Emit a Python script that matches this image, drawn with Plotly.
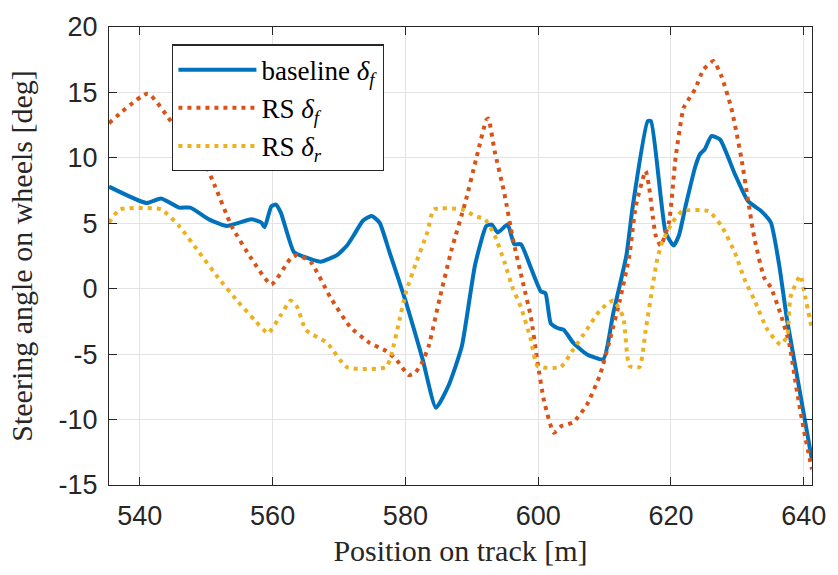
import plotly.graph_objects as go

# ---- data ----
baseline_x = [535.35, 541.0, 543.2, 545.9, 547.6, 550.4, 553.1, 556.8, 558.3, 558.8, 559.8, 560.5,
              561.25, 563.2, 564.7, 567.2, 569.7, 571.2, 572.2, 573.6, 574.9, 576.1, 577.6, 580.07,
              582.6, 584.6, 586.5, 588.5, 590.5, 592.2, 593.0, 593.9, 595.4, 596.4, 597.4, 598.9,
              600.4, 601.1, 601.9, 602.9, 603.85, 605.3, 607.3, 609.8, 611.3, 613.3, 614.25, 616.5,
              617.0, 619.2, 620.4, 621.2, 622.2, 623.65, 624.4, 625.1, 626.1, 627.4, 629.6, 631.6,
              633.6, 635.05, 636.3, 637.5, 641.25]
baseline_y = [7.8, 6.55, 6.9, 6.2, 6.2, 5.3, 4.8, 5.3, 5.06, 4.7, 6.3, 6.43,
              5.8, 2.8, 2.45, 2.07, 2.57, 3.3, 4.07, 5.2, 5.56, 5.06, 2.8, -1.0,
              -5.4, -9.1, -7.4, -4.4, 1.83, 4.8, 4.9, 4.3, 4.9, 3.4, 3.4, 1.6,
              -0.2, -0.35, -2.65, -3.0, -3.15, -4.14, -5.0, -5.4, -1.9, 2.57, 6.3, 12.8,
              12.8, 4.3, 3.3, 4.07, 6.3, 9.3, 10.3, 10.66, 11.66, 11.4, 8.8, 6.7,
              5.93, 5.06, 1.83, -2.4, -13.1]

rs_f_x = [535.35, 541.2, 544.9, 549.4, 551.35, 553.8, 556.8, 559.8, 562.7, 563.7, 565.7, 568.7,
          571.65, 574.6, 577.1, 578.6, 580.5, 581.5, 582.55, 583.5, 585.2, 587.0, 589.0, 590.7,
          592.2, 592.5, 593.45, 594.9, 596.2, 597.65, 598.9, 599.9, 600.9, 602.35, 603.5, 605.3,
          607.3, 609.3, 610.8, 612.3, 613.75, 614.7, 616.2, 616.7, 617.7, 618.45, 619.7, 620.7,
          621.9, 622.7, 623.65, 624.9, 626.4, 627.6, 629.1, 630.6, 631.6, 632.6, 634.05, 635.05,
          636.5, 637.8, 639.0, 640.25, 641.25]
rs_f_y = [12.65, 14.9, 12.65, 10.0, 7.8, 4.8, 2.3, 0.33, 2.3, 2.57, 2.07, -0.66,
          -2.9, -4.14, -4.76, -5.4, -6.6, -6.4, -5.6, -4.4, -0.66, 3.07, 6.55, 10.0,
          12.9, 13.0, 10.5, 7.3, 3.8, 0.58, -2.15, -5.6, -8.6, -11.0, -10.5, -10.2,
          -8.9, -6.6, -3.9, -0.9, 2.57, 6.3, 9.0, 7.8, 4.07, 3.3, 5.06, 10.0,
          13.8, 14.5, 15.26, 16.75, 17.4, 16.25, 13.8, 10.0, 6.8, 3.8, 0.84, 0.1,
          -1.9, -4.14, -7.9, -11.4, -13.8]

rs_r_x = [535.35, 537.0, 543.2, 545.9, 548.9, 551.8, 554.8, 557.3, 559.3, 561.25, 562.7, 563.7,
          565.0, 568.2, 571.2, 577.1, 577.85, 579.1, 580.07, 581.55, 583.3, 584.3, 588.5, 590.5,
          592.0, 593.45, 594.9, 596.2, 597.4, 598.9, 599.9, 603.35, 605.3, 607.3, 609.3, 611.3,
          612.8, 613.75, 615.25, 616.2, 617.2, 617.95, 618.7, 620.2, 621.7, 625.65, 627.6, 629.6,
          631.1, 632.6, 634.55, 636.5, 637.5, 638.0, 639.5, 640.25, 641.25]
rs_r_y = [5.06, 6.06, 6.06, 4.8, 2.8, 0.84, -1.0, -2.4, -3.4, -2.0, -0.9, -1.4,
          -3.15, -4.14, -6.0, -6.0, -5.1, -2.4, -0.3, 1.9, 4.3, 6.06, 6.06, 5.56,
          5.3, 4.07, 2.07, 0.0, -1.4, -3.9, -5.9, -6.0, -4.64, -3.15, -1.66, -0.9,
          -2.15, -5.9, -6.0, -3.15, 0.08, 2.3, 3.57, 5.06, 5.93, 5.93, 4.8, 2.8,
          0.7, -0.9, -3.15, -4.27, -3.64, -0.66, 1.0, -0.66, -3.15]

series_names = ["baseline <i>δ</i><sub><i>f</i></sub>",
                "RS <i>δ</i><sub><i>f</i></sub>",
                "RS <i>δ</i><sub><i>r</i></sub>"]

x_tick_vals = [540, 560, 580, 600, 620, 640]
x_tick_text = ["540", "560", "580", "600", "620", "640"]
y_tick_vals = [-15, -10, -5, 0, 5, 10, 15, 20]
y_tick_text = ["-15", "-10", "-5", "0", "5", "10", "15", "20"]

x_label = "Position on track [m]"
y_label = "Steering angle on wheels [deg]"

# ---- styles ----
BLUE, RED, YELLOW = "#0072BD", "#D95319", "#EDB120"
SERIF = "Liberation Serif, Times New Roman, serif"
SANS = "Liberation Sans, Arial, Helvetica, sans-serif"
AX = "#262626"

fig = go.Figure()
fig.add_trace(go.Scatter(x=baseline_x, y=baseline_y, mode="lines", name=series_names[0],
                         line=dict(color=BLUE, width=4, shape="spline", smoothing=0.5)))
fig.add_trace(go.Scatter(x=rs_f_x, y=rs_f_y, mode="lines", name=series_names[1],
                         line=dict(color=RED, width=4, dash="4px,5px", shape="spline", smoothing=0.5)))
fig.add_trace(go.Scatter(x=rs_r_x, y=rs_r_y, mode="lines", name=series_names[2],
                         line=dict(color=YELLOW, width=4, dash="4px,5px", shape="spline", smoothing=0.5)))

axis_common = dict(showline=True, linecolor=AX, linewidth=1.3, mirror="ticks",
                   ticks="inside", ticklen=8, tickcolor=AX, tickwidth=1.3,
                   showgrid=True, gridcolor="#e3e3e3", gridwidth=1, zeroline=False,
                   tickfont=dict(family=SANS, size=27, color=AX))

fig.update_xaxes(range=[535.35, 641.25], tickmode="array", tickvals=x_tick_vals, ticktext=x_tick_text,
                 ticklabelstandoff=6,
                 title=dict(text=x_label, font=dict(family=SERIF, size=30, color=AX), standoff=10),
                 **axis_common)
fig.update_yaxes(range=[-15, 20], tickmode="array", tickvals=y_tick_vals, ticktext=y_tick_text,
                 ticklabelstandoff=5,
                 title=dict(text=y_label, font=dict(family=SERIF, size=30, color=AX), standoff=16),
                 **axis_common)

fig.update_layout(
    width=838, height=575,
    margin=dict(l=109, r=16, t=16, b=90),
    plot_bgcolor="white", paper_bgcolor="white",
    showlegend=True,
    legend=dict(x=0.0898, y=0.962, xanchor="left", yanchor="top",
                bgcolor="white", bordercolor=AX, borderwidth=1.3,
                font=dict(family=SERIF, size=27, color="black"),
                itemwidth=78, tracegroupgap=0),
)

fig.write_html("out.html")
